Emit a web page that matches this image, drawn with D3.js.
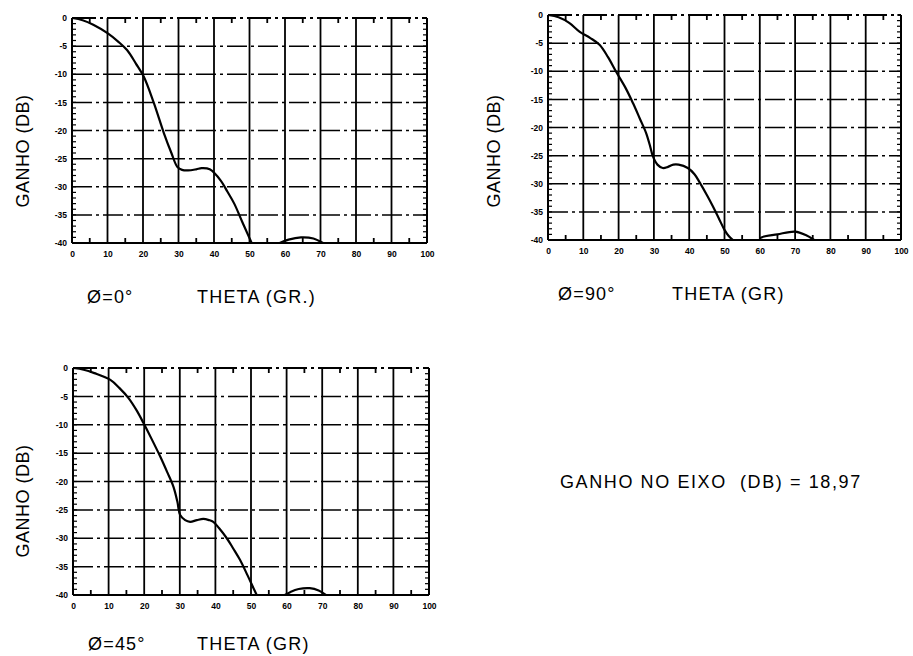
<!DOCTYPE html>
<html>
<head>
<meta charset="utf-8">
<script src="https://cdn.jsdelivr.net/npm/d3@7"></script>
<style>
  html, body { margin: 0; padding: 0; background: #fff; }
  svg { display: block; }
  text { font-family: "Liberation Sans", Arial, sans-serif; fill: #000; }
</style>
</head>
<body>
<svg id="chart" width="913" height="656"></svg>
<script>
// ---- data ----
const xTickLabels = ["0","10","20","30","40","50","60","70","80","90","100"];
const yTickLabels = ["0","-5","-10","-15","-20","-25","-30","-35","-40"];
const xTicks = [0,10,20,30,40,50,60,70,80,90,100];
const yTicks = [0,-5,-10,-15,-20,-25,-30,-35,-40];

// PHI = 0 deg  (null gain = break between main lobe and side lobe)
const thetaPhi0 = [0,3,6,10,13,15.5,18,20.2,23,25.9,28,29.7,31,32.7,35,36.5,38.8,41.9,43.8,45.7,48,49.9,50.6, 55, 58.5,61,64.5,68,70.7];
const gainPhi0  = [0,-0.4,-1.2,-2.7,-4.2,-5.7,-8.1,-10.4,-15,-20.5,-24,-26.5,-27,-27.1,-26.9,-26.7,-26.9,-28.9,-30.9,-33,-36.3,-39,-40, null, -40,-39.4,-39,-39.2,-40];

// PHI = 90 deg
const thetaPhi90 = [0,3,6,9,12,14.6,17,19.3,22,24.1,26,27.8,29,29.7,31,32.5,34,35.5,37,39.6,41.5,43,45,46.7,48.5,50,51.2,52.4, 56, 60,60.3,65,70,73,75.4];
const gainPhi90  = [0,-0.4,-1.4,-3.0,-4.1,-5.3,-7.5,-10.1,-13,-15.7,-18.4,-21,-23.5,-25.1,-26.6,-27.2,-27,-26.6,-26.6,-27.2,-28.3,-29.8,-32,-34,-36.3,-38.2,-39.3,-40, null, -40,-39.6,-39,-38.5,-39.1,-40];

// PHI = 45 deg
const thetaPhi45 = [0,3,6,10.5,13,15.6,18,19.8,22,24.5,26.5,28.2,29.3,30.1,31.5,32.9,34.8,36.6,38.2,39.4,41,43.2,45,46.9,49,50.7,51.6, 55, 59.5,61,63.4,66.5,69,71];
const gainPhi45  = [0,-0.3,-0.9,-2.1,-3.5,-5.3,-7.6,-9.7,-12.4,-15.6,-18.4,-20.9,-23.5,-25.9,-26.8,-27.1,-26.8,-26.6,-26.8,-27.1,-28.2,-30,-31.8,-33.8,-36.5,-38.8,-40, null, -40,-39.5,-38.95,-38.8,-39.2,-40];

const phiLabels = ["\u00D8=0\u00B0", "\u00D8=90\u00B0", "\u00D8=45\u00B0"];
const xTitles = ["THETA (GR.)", "THETA (GR)", "THETA (GR)"];
const yTitle = "GANHO (DB)";
const noteText = "GANHO NO EIXO  (DB) = 18,97";

// ---- layout ----
const panels = [
  {theta: thetaPhi0,  gain: gainPhi0,  phi: phiLabels[0], xt: xTitles[0], L:72,  R:427, T:18,  B:243, yLabX:23,  yLabY:151, capY:303, phiX:87,  ttlX:197},
  {theta: thetaPhi90, gain: gainPhi90, phi: phiLabels[1], xt: xTitles[1], L:548, R:901, T:15,  B:240, yLabX:494, yLabY:151, capY:300, phiX:558, ttlX:672},
  {theta: thetaPhi45, gain: gainPhi45, phi: phiLabels[2], xt: xTitles[2], L:73,  R:429, T:368, B:595, yLabX:23,  yLabY:501, capY:650, phiX:88,  ttlX:197}
];

const svg = d3.select("#chart");

panels.forEach((p, k) => {
  const x = d3.scaleLinear().domain([0,100]).range([p.L, p.R]);
  const y = d3.scaleLinear().domain([0,-40]).range([p.T, p.B]);
  const g = svg.append("g");

  // horizontal dash-dot grid
  g.selectAll("line.h").data(yTicks.slice(1, -1)).join("line")
    .attr("x1", p.L).attr("x2", p.R)
    .attr("y1", d => y(d)).attr("y2", d => y(d))
    .attr("stroke", "#000").attr("stroke-width", 1.5)
    .attr("stroke-dasharray", "20,4,3,4");

  // vertical solid grid
  g.selectAll("line.v").data(xTicks.slice(1, -1)).join("line")
    .attr("y1", p.T).attr("y2", p.B)
    .attr("x1", d => x(d)).attr("x2", d => x(d))
    .attr("stroke", "#000").attr("stroke-width", 1.8);

  // frame
  g.append("line").attr("x1", p.L).attr("x2", p.L).attr("y1", p.T).attr("y2", p.B)
    .attr("stroke", "#000").attr("stroke-width", 2);
  g.append("line").attr("x1", p.R).attr("x2", p.R).attr("y1", p.T).attr("y2", p.B)
    .attr("stroke", "#000").attr("stroke-width", 2);
  g.append("line").attr("x1", p.L).attr("x2", p.R).attr("y1", p.B).attr("y2", p.B)
    .attr("stroke", "#000").attr("stroke-width", 2);
  g.append("line").attr("x1", p.L).attr("x2", p.R).attr("y1", p.T).attr("y2", p.T)
    .attr("stroke", "#000").attr("stroke-width", 2).attr("stroke-dasharray", "24,4,3,4");

  // minor ticks every 1 dB on left and right edges
  const minorY = d3.range(0, -41, -1);
  g.selectAll("line.ml").data(minorY).join("line")
    .attr("x1", p.L).attr("x2", p.L + 4)
    .attr("y1", d => y(d)).attr("y2", d => y(d))
    .attr("stroke", "#000").attr("stroke-width", 1.2);
  g.selectAll("line.mr").data(minorY).join("line")
    .attr("x1", p.R).attr("x2", p.R - 4)
    .attr("y1", d => y(d)).attr("y2", d => y(d))
    .attr("stroke", "#000").attr("stroke-width", 1.2);
  // mid ticks on top and bottom
  const midX = d3.range(5, 100, 10);
  g.selectAll("line.mt").data(midX).join("line")
    .attr("x1", d => x(d)).attr("x2", d => x(d))
    .attr("y1", p.T).attr("y2", p.T + 5)
    .attr("stroke", "#000").attr("stroke-width", 1.8);
  g.selectAll("line.mb").data(midX).join("line")
    .attr("x1", d => x(d)).attr("x2", d => x(d))
    .attr("y1", p.B).attr("y2", p.B - 5)
    .attr("stroke", "#000").attr("stroke-width", 1.8);

  // axes labels via d3 axes
  const yAxis = d3.axisLeft(y).tickValues(yTicks).tickSize(0).tickPadding(5)
    .tickFormat((d, i) => yTickLabels[i]);
  const ya = g.append("g").attr("transform", `translate(${p.L},0)`).call(yAxis);
  ya.select(".domain").remove();
  ya.selectAll("text").attr("font-size", 8.5).attr("font-weight", "bold")
    .style("font-family", "'Liberation Sans', Arial, sans-serif");

  const xAxis = d3.axisBottom(x).tickValues(xTicks).tickSize(0).tickPadding(8)
    .tickFormat((d, i) => xTickLabels[i]);
  const xa = g.append("g").attr("transform", `translate(0,${p.B})`).call(xAxis);
  xa.select(".domain").remove();
  xa.selectAll("text").attr("font-size", 8.5).attr("font-weight", "bold")
    .style("font-family", "'Liberation Sans', Arial, sans-serif");

  // curve (clipped to the plot area)
  const clipId = "clip" + k;
  svg.append("clipPath").attr("id", clipId).append("rect")
    .attr("x", p.L).attr("y", p.T - 2).attr("width", p.R - p.L).attr("height", p.B - p.T + 2);
  const pts = p.theta.map((t, i) => [t, p.gain[i]]);
  const line = d3.line()
    .defined(d => d[1] !== null)
    .x(d => x(d[0])).y(d => y(d[1]))
    .curve(d3.curveCatmullRom.alpha(0.5));
  g.append("path").attr("d", line(pts))
    .attr("clip-path", `url(#${clipId})`)
    .attr("fill", "none").attr("stroke", "#000").attr("stroke-width", 2.2)
    .attr("stroke-linejoin", "round");

  // y title
  g.append("text")
    .attr("transform", `translate(${p.yLabX},${p.yLabY}) rotate(-90)`)
    .attr("text-anchor", "middle").attr("dominant-baseline", "central")
    .attr("font-size", 18).attr("letter-spacing", 0.5)
    .text(yTitle);

  // captions
  g.append("text").attr("x", p.phiX).attr("y", p.capY)
    .attr("font-size", 18).attr("letter-spacing", 1.2).text(p.phi);
  g.append("text").attr("x", p.ttlX).attr("y", p.capY)
    .attr("font-size", 18).attr("letter-spacing", 1.2).text(p.xt);
});

svg.append("text").attr("x", 560).attr("y", 488)
  .attr("font-size", 18).attr("letter-spacing", 1.6).attr("xml:space", "preserve")
  .style("white-space", "pre")
  .text(noteText);
</script>
</body>
</html>
